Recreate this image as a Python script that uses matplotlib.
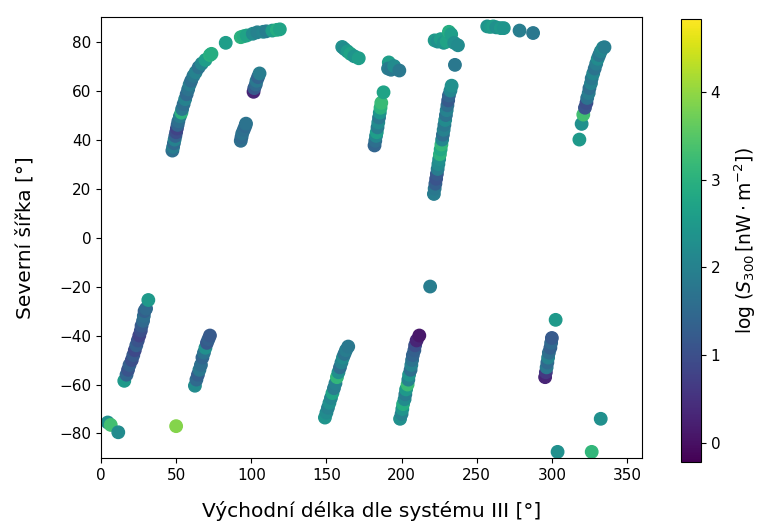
import matplotlib
matplotlib.use('Agg')
import matplotlib.pyplot as plt

# longitude (System III), latitude, log S300, grouped by track
lon = [
    # upper left arc
    47.5, 48, 48.5, 49, 49.5, 50, 50.5, 51, 51.5, 52.5, 53.5, 54, 55, 56, 57, 58, 59, 60, 61.5, 63, 65, 67, 69.5, 72.5, 73.5,
    83, 93, 95, 97, 101, 104, 108, 110, 114, 117, 119,
    101.5, 102, 103, 103.5, 104.5, 105.5,
    93, 93.5, 94, 95, 96, 96.5,
    # upper middle
    160.5, 162, 164, 166, 168.5, 171.5,
    191.5, 191, 193, 195, 198.5,
    182, 182.5, 183, 183.5, 184, 184.5, 185, 185.5, 186, 186.5, 188,
    222, 224, 226, 228, 230, 231.5, 233, 235, 237.5, 235.5,
    221.5, 222, 222.5, 223, 223.5, 224, 224.5, 225, 225.5, 226, 226.5, 227, 227.5, 228, 228.5, 229, 229.5, 230,
    230.5, 231, 231.5, 232.5, 233.3,
    257, 259, 261, 263, 266, 268, 278.5, 287.5,
    # upper right
    318.3, 319.8, 320.9, 322, 323, 323.5, 324.5, 325, 326, 326.5, 327.5, 328.5, 329.5, 330.5, 331.5, 332.5, 334, 335,
    # lower left
    15.5, 17, 18, 19, 20.5, 21.5, 22.5, 23.5, 24.5, 25.5, 26.5, 27, 28, 28.5, 29, 30, 31.5,
    62.5, 63.5, 64.5, 65.5, 66.5, 67.5, 68.5, 69.5, 70.5, 71.5, 72.5,
    4.5, 6.5, 11.5, 50,
    # lower middle
    149, 150, 151, 152, 153, 154, 155, 156, 157, 158, 159, 160, 161, 162, 163, 164.5,
    199, 200, 200.5, 201, 202, 202.5, 203, 204, 204.5, 205, 206, 206.5, 207, 207.5, 208.5, 209, 210, 211.8,
    219,
    # lower right
    295.5, 296, 296.5, 297, 297.5, 298, 299, 299.5, 300, 302.5,
    332.5, 303.8, 326.5,
]
lat = [
    35.5, 37, 38.5, 40, 41.5, 43, 44.5, 46, 47.5, 49.5, 51, 52.5, 54.5, 56.5, 58.5, 60.5, 62.5, 64, 66, 67.5, 69.5, 71, 72.5, 74.5, 75,
    79.5, 81.8, 82.2, 82.5, 83.2, 83.8, 84, 84.2, 84.5, 84.8, 85,
    59.5, 61, 62.5, 64, 65.5, 67,
    39.5, 41, 42.5, 44, 45.5, 46.5,
    77.8, 77, 76, 75, 74, 73.2,
    71.5, 69, 68.5, 70, 68.2,
    37.6, 39.5, 41.5, 43, 45, 47, 49, 51, 53, 55, 59.3,
    80.5, 80, 81, 79.5, 80, 84, 83, 79.5, 78.5, 70.5,
    17.8, 20, 22, 24, 26, 28, 30, 32, 34, 36, 38, 40, 42, 44, 46, 48, 50, 52,
    54, 56, 58, 60, 62,
    86.2, 86, 86.2, 85.8, 85.5, 85.5, 84.5, 83.5,
    40, 46.4, 50.2, 53, 55, 57, 59, 61, 63, 65, 67, 69, 71, 73, 74.5, 76, 77.5, 77.7,
    -58.5, -56, -54, -52, -50, -48, -46, -44, -42, -40, -38, -36, -34, -32, -30, -29, -25.5,
    -60.5, -58, -56, -54, -52, -49, -47, -45, -43, -41.5, -40,
    -75.5, -76.5, -79.5, -77,
    -73.5, -71.5, -69.5, -67.5, -65.5, -63.5, -61.5, -59.5, -57, -55, -53, -51, -49, -47.5, -46, -44.5,
    -74, -72, -70, -68, -66, -64, -62, -60, -58, -56, -54, -52, -50, -48, -46, -44, -42, -40,
    -20,
    -57, -55, -53, -51, -49, -47, -45, -43, -41, -33.6,
    -74, -87.5, -87.5,
]
log_s = [
    1.6, 1.9, 1.5, 2.0, 1.4, 1.0, 0.8, 1.4, 1.6, 1.9, 3.0, 1.8, 1.6, 2.0, 1.5, 1.7, 1.9, 1.6, 1.8, 2.0, 1.7, 2.1, 2.6, 3.0, 2.9,
    2.6, 3.0, 2.9, 2.7, 2.2, 2.0, 2.1, 1.9, 2.6, 2.9, 2.7,
    0.3, 1.2, 1.5, 1.8, 1.4, 1.9,
    1.6, 1.5, 1.7, 1.6, 1.5, 1.7,
    2.3, 2.2, 2.5, 2.7, 2.4, 2.6,
    2.6, 1.9, 1.8, 2.2, 1.8,
    1.4, 1.6, 2.1, 2.6, 1.9, 2.2, 1.8, 2.4, 3.0, 3.2, 2.7,
    2.5, 2.3, 2.6, 2.4, 2.7, 2.9, 2.6, 2.3, 2.2, 1.8,
    1.9, 1.8, 1.3, 1.1, 1.2, 1.9, 2.2, 2.3, 3.0, 2.8, 3.1, 2.1, 1.6, 2.0, 1.8, 2.2, 1.7, 2.0,
    1.6, 1.2, 1.4, 2.1, 2.3,
    2.4, 2.5, 2.6, 2.3, 2.5, 2.4, 1.9, 1.8,
    2.5, 2.3, 3.3, 1.1, 1.0, 1.7, 1.9, 1.6, 2.0, 1.8, 2.1, 1.7, 1.9, 2.2, 1.8, 2.0, 2.2, 1.9,
    2.5, 1.4, 1.1, 1.3, 1.0, 1.2, 0.9, 1.3, 1.1, 0.8, 1.0, 1.2, 1.5, 1.6, 1.3, 1.5, 2.5,
    2.2, 1.5, 1.3, 1.8, 1.6, 1.4, 1.7, 2.3, 1.2, 1.3, 1.2,
    2.3, 3.3, 2.2, 3.9,
    2.4, 2.2, 2.0, 2.3, 2.1, 2.7, 1.9, 2.0, 3.1, 2.3, 1.6, 2.0, 2.2, 1.7, 1.9, 1.8,
    2.3, 2.0, 2.4, 2.9, 2.2, 1.9, 2.5, 3.2, 2.0, 2.4, 1.6, 2.0, 1.7, 1.4, 1.3, 1.0, 0.3, 0.1,
    1.9,
    0.3, 0.6, 1.8, 1.5, 2.0, 1.6, 1.3, 1.5, 1.2, 2.5,
    2.3, 2.3, 3.1,
]

plt.rcParams['font.size'] = 11

fig = plt.figure(figsize=(7.61, 5.23), dpi=100)
ax = fig.add_axes([0.1327, 0.1243, 0.711, 0.843])
cax = fig.add_axes([0.895, 0.1166, 0.026, 0.847])

sc = ax.scatter(lon, lat, c=log_s, cmap='viridis', vmin=-0.22, vmax=4.83, s=80)
ax.set_xlim(0, 360)
ax.set_ylim(-90, 90)
ax.set_xticks([0, 50, 100, 150, 200, 250, 300, 350])
ax.set_yticks([-80, -60, -40, -20, 0, 20, 40, 60, 80])
ax.set_xlabel('Východní délka dle systému III [°]', fontsize=14.5, labelpad=13)
ax.set_ylabel('Severní šířka [°]', fontsize=14.5, labelpad=18)

cb = fig.colorbar(sc, cax=cax)
cb.set_ticks([0, 1, 2, 3, 4])
cb.set_label(r'log ($S_{300}\,[\mathrm{nW \cdot m^{-2}}]$)', fontsize=13.5, labelpad=9)

fig.savefig('out.png', dpi=100)
